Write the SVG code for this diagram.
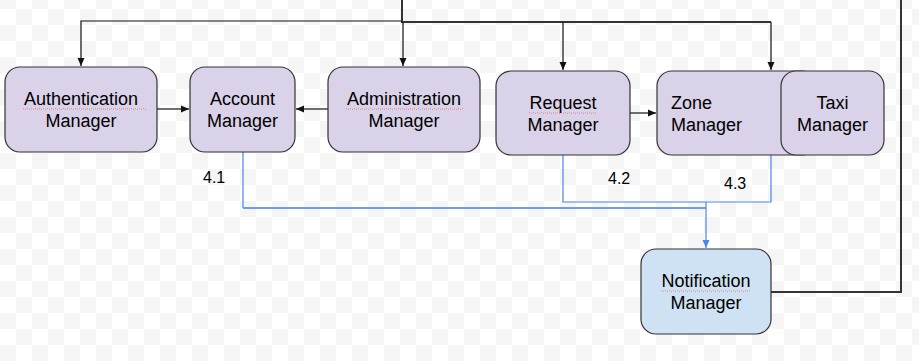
<svg xmlns="http://www.w3.org/2000/svg" width="919" height="361" viewBox="0 0 919 361">
  <defs>
    <pattern id="checker" x="0" y="-7" width="32" height="32" patternUnits="userSpaceOnUse">
      <rect width="32" height="32" fill="#ffffff"/>
      <rect width="16" height="16" fill="#f5f5f5"/>
      <rect x="16" y="16" width="16" height="16" fill="#f5f5f5"/>
    </pattern>
    <marker id="arrowBlack" markerWidth="10" markerHeight="10" refX="9" refY="5" orient="auto" markerUnits="userSpaceOnUse">
      <path d="M1,1.5 L9,5 L1,8.5 Z" fill="#111"/>
    </marker>
    <marker id="arrowBlue" markerWidth="10" markerHeight="10" refX="9" refY="5" orient="auto" markerUnits="userSpaceOnUse">
      <path d="M1,1.5 L9,5 L1,8.5 Z" fill="#4a86e8"/>
    </marker>
  </defs>
  <style>
    .box { fill: #d9d2e9; stroke: #333333; stroke-width: 1.2; }
    .notify { fill: #cfe2f3; stroke: #333333; stroke-width: 1.2; }
    .label { font-family: "Liberation Sans", Arial, sans-serif; font-size: 18px; fill: #000; }
    .num { font-family: "Liberation Sans", Arial, sans-serif; font-size: 16px; fill: #000; }
    .link { fill: none; stroke: #111; stroke-width: 1.2; }
    .thick { fill: none; stroke: #333; stroke-width: 2; }
    .blue { fill: none; stroke: #4a86e8; stroke-width: 1.2; }
    .blueWide { fill: none; stroke: #6d9eeb; stroke-width: 2; }
    .squiggle { fill: none; stroke: #e06666; stroke-width: 0.8; stroke-dasharray: 1 1; }
  </style>

  <rect width="919" height="361" fill="url(#checker)"/>

  <g id="connectors">
    <!-- loop from Notification Manager back to the top bus -->
    <path class="thick" d="M771,292 H901 V0"/>
    <path class="thick" d="M402,0 V22 H771"/>
    <path class="link" d="M402,21 H81 V66" marker-end="url(#arrowBlack)"/>
    <path class="link" d="M403,22 V66" marker-end="url(#arrowBlack)"/>
    <path class="link" d="M563,22 V70" marker-end="url(#arrowBlack)"/>
    <path class="link" d="M771,22 V70" marker-end="url(#arrowBlack)"/>
    <!-- horizontal links between managers -->
    <path class="link" d="M157,109 H189" marker-end="url(#arrowBlack)"/>
    <path class="link" d="M328,109 H296" marker-end="url(#arrowBlack)"/>
    <path class="link" d="M630,113 H656" marker-end="url(#arrowBlack)"/>
    <!-- notification flows -->
    <path class="blue" d="M243,152 V208"/>
    <path class="blueWide" d="M243,208 H706"/>
    <path class="blue" d="M563,155 V202 H771 V155"/>
    <path class="blue" d="M706,202 V248" marker-end="url(#arrowBlue)"/>
    <text class="num" x="203" y="183">4.1</text>
    <text class="num" x="608" y="184">4.2</text>
    <text class="num" x="724" y="189">4.3</text>
  </g>

  <g id="authentication-manager">
    <rect class="box" x="5" y="67" width="152" height="85" rx="15"/>
    <text class="label" x="81" y="105" text-anchor="middle">Authentication</text>
    <path class="squiggle" d="M23,109 q1,-1 2,0 t2,0 t2,0 t2,0 t2,0 t2,0 t2,0 t2,0 t2,0 t2,0 t2,0 t2,0 t2,0 t2,0 t2,0 t2,0 t2,0 t2,0 t2,0 t2,0 t2,0 t2,0 t2,0 t2,0 t2,0 t2,0 t2,0 t2,0 t2,0 t2,0 t2,0 t2,0 t2,0 t2,0 t2,0 t2,0 t2,0 t2,0 t2,0 t2,0 t2,0 t2,0 t2,0 t2,0 t2,0 t2,0 t2,0 t2,0 t2,0 t2,0 t2,0 t2,0 t2,0 t2,0 t2,0 t2,0 t2,0 t2,0 t2,0 t2,0 t2,0 t2,0"/>
    <text class="label" x="81" y="127" text-anchor="middle">Manager</text>
  </g>

  <g id="account-manager">
    <rect class="box" x="190" y="67" width="105" height="85" rx="15"/>
    <text class="label" x="242.5" y="105" text-anchor="middle">Account</text>
    <text class="label" x="242.5" y="127" text-anchor="middle">Manager</text>
  </g>

  <g id="administration-manager">
    <rect class="box" x="328" y="67" width="152" height="85" rx="15"/>
    <text class="label" x="404" y="105" text-anchor="middle">Administration</text>
    <path class="squiggle" d="M346,109 q1,-1 2,0 t2,0 t2,0 t2,0 t2,0 t2,0 t2,0 t2,0 t2,0 t2,0 t2,0 t2,0 t2,0 t2,0 t2,0 t2,0 t2,0 t2,0 t2,0 t2,0 t2,0 t2,0 t2,0 t2,0 t2,0 t2,0 t2,0 t2,0 t2,0 t2,0 t2,0 t2,0 t2,0 t2,0 t2,0 t2,0 t2,0 t2,0 t2,0 t2,0 t2,0 t2,0 t2,0 t2,0 t2,0 t2,0 t2,0 t2,0 t2,0 t2,0 t2,0 t2,0 t2,0 t2,0 t2,0 t2,0 t2,0 t2,0 t2,0"/>
    <text class="label" x="404" y="127" text-anchor="middle">Manager</text>
  </g>

  <g id="request-manager">
    <rect class="box" x="496" y="71" width="134" height="84" rx="15"/>
    <text class="label" x="563" y="109" text-anchor="middle">Request</text>
    <path class="squiggle" d="M529,113 q1,-1 2,0 t2,0 t2,0 t2,0 t2,0 t2,0 t2,0 t2,0 t2,0 t2,0 t2,0 t2,0 t2,0 t2,0 t2,0 t2,0 t2,0 t2,0 t2,0 t2,0 t2,0 t2,0 t2,0 t2,0 t2,0 t2,0 t2,0 t2,0 t2,0 t2,0 t2,0 t2,0 t2,0 t2,0"/>
    <text class="label" x="563" y="131" text-anchor="middle">Manager</text>
  </g>

  <g id="zone-manager">
    <rect class="box" x="657" y="71" width="160" height="84" rx="15"/>
    <text class="label" x="671" y="109">Zone</text>
    <text class="label" x="671" y="131">Manager</text>
  </g>

  <g id="taxi-manager">
    <rect class="box" x="781" y="71" width="103" height="84" rx="15"/>
    <text class="label" x="832.5" y="109" text-anchor="middle">Taxi</text>
    <text class="label" x="832.5" y="131" text-anchor="middle">Manager</text>
  </g>

  <g id="notification-manager">
    <rect class="notify" x="641" y="249" width="130" height="85" rx="15"/>
    <text class="label" x="706" y="287" text-anchor="middle">Notification</text>
    <path class="squiggle" d="M661,291 q1,-1 2,0 t2,0 t2,0 t2,0 t2,0 t2,0 t2,0 t2,0 t2,0 t2,0 t2,0 t2,0 t2,0 t2,0 t2,0 t2,0 t2,0 t2,0 t2,0 t2,0 t2,0 t2,0 t2,0 t2,0 t2,0 t2,0 t2,0 t2,0 t2,0 t2,0 t2,0 t2,0 t2,0 t2,0 t2,0 t2,0 t2,0 t2,0 t2,0 t2,0 t2,0 t2,0 t2,0 t2,0 t2,0"/>
    <text class="label" x="706" y="309" text-anchor="middle">Manager</text>
  </g>
</svg>
